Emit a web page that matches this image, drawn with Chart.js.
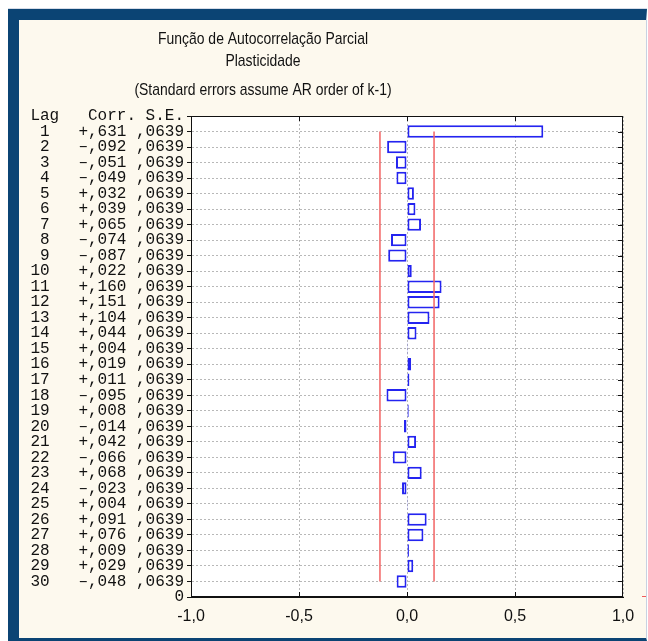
<!DOCTYPE html>
<html>
<head>
<meta charset="utf-8">
<title>Função de Autocorrelação Parcial</title>
<script src="https://cdn.jsdelivr.net/npm/chart.js@4"></script>
<style>
    html, body {
        margin: 0;
        padding: 0;
        width: 648px;
        height: 641px;
        overflow: hidden;
        background: #ffffff;
    }
    #edge {
        position: absolute;
        left: 8px;
        top: 8px;
        width: 639px;
        height: 1px;
        background: #d6dce8;
    }
    #panel {
        position: absolute;
        box-sizing: border-box;
        left: 8px;
        top: 9px;
        width: 639px;
        height: 632px;
        background: #fdf9ee;
        border-left: 11px solid #0b4474;
        border-top: 11px solid #0b4474;
        border-bottom: 3px solid #0b4474;
        border-right: 1px solid #c8d2e2;
    }
    #pacfChart {
        position: absolute;
        left: 19px;
        top: 20px;
    }
</style>
</head>
<body>
<div id="edge"></div>
<div id="panel"></div>
<canvas id="pacfChart" width="627" height="618"></canvas>

<script>
const lags = [1, 2, 3, 4, 5, 6, 7, 8, 9, 10, 11, 12, 13, 14, 15,
              16, 17, 18, 19, 20, 21, 22, 23, 24, 25, 26, 27, 28, 29, 30];
const corr = [0.631, -0.092, -0.051, -0.049, 0.032, 0.039, 0.065, -0.074, -0.087, 0.022,
              0.160, 0.151, 0.104, 0.044, 0.004, 0.019, 0.011, -0.095, 0.008, -0.014,
              0.042, -0.066, 0.068, -0.023, 0.004, 0.091, 0.076, 0.009, 0.029, -0.048];
const stdErr = [0.0639, 0.0639, 0.0639, 0.0639, 0.0639, 0.0639, 0.0639, 0.0639, 0.0639, 0.0639,
                0.0639, 0.0639, 0.0639, 0.0639, 0.0639, 0.0639, 0.0639, 0.0639, 0.0639, 0.0639,
                0.0639, 0.0639, 0.0639, 0.0639, 0.0639, 0.0639, 0.0639, 0.0639, 0.0639, 0.0639];
const xTicks = [-1, -0.5, 0, 0.5, 1];
const confLimit = 0.1252;

const titleLines = [
    "Função de Autocorrelação Parcial",
    "Plasticidade",
    "(Standard errors assume AR order of k-1)"
];
const tableHeader = "Lag   Corr. S.E.";

function fmtCorr(v) {
    return (v < 0 ? "–" : "+") + Math.abs(v).toFixed(3).replace("0.", ",");
}

function rowLabel(i) {
    return String(lags[i]).padStart(2) + "   " + fmtCorr(corr[i]) + " " + stdErr[i].toFixed(4).replace("0.", ",");
}

function yTickLabel(value) {
    if (value === 0) return tableHeader;
    if (value === lags.length + 1) return "0";
    return rowLabel(value - 1);
}

// heading text is squeezed sideways to get a narrow face
function drawNarrow(ctx, text, x, y) {
    ctx.save();
    ctx.translate(x, y);
    ctx.scale(0.82, 1);
    ctx.fillText(text, 0, 0);
    ctx.restore();
}

// white plot area, box border, inner tick marks and the three heading lines
const framePlugin = {
    id: "frame",
    beforeDraw(chart) {
        const { ctx, chartArea: a } = chart;
        ctx.save();
        ctx.fillStyle = "#ffffff";
        ctx.fillRect(a.left, a.top, a.width, a.height);
        ctx.restore();
    },
    afterDraw(chart) {
        const { ctx, chartArea: a, scales } = chart;
        ctx.save();
        ctx.strokeStyle = "#111111";
        ctx.lineWidth = 1;
        ctx.strokeRect(a.left + 0.5, a.top + 0.5, a.width - 1, a.height - 1);

        ctx.beginPath();
        lags.forEach(lag => {
            const y = Math.round(scales.y.getPixelForValue(lag)) + 0.5;
            ctx.moveTo(a.right - 5, y);
            ctx.lineTo(a.right, y);
        });
        xTicks.slice(1, -1).forEach(v => {
            const x = Math.round(scales.x.getPixelForValue(v)) + 0.5;
            ctx.moveTo(x, a.top);
            ctx.lineTo(x, a.top + 5);
            ctx.moveTo(x, a.bottom);
            ctx.lineTo(x, a.bottom - 5);
        });
        ctx.stroke();

        ctx.strokeStyle = "#f05a5a";
        ctx.beginPath();
        ctx.moveTo(a.right + 19, a.bottom - 0.5);
        ctx.lineTo(a.right + 23, a.bottom - 0.5);
        ctx.stroke();

        ctx.fillStyle = "#111111";
        ctx.textAlign = "center";
        ctx.textBaseline = "middle";
        ctx.font = '17px "Liberation Sans", Arial, sans-serif';
        drawNarrow(ctx, titleLines[0], 244, 19);
        drawNarrow(ctx, titleLines[1], 244, 41);
        drawNarrow(ctx, titleLines[2], 244, 70);
        ctx.restore();
    }
};

new Chart(document.getElementById("pacfChart"), {
    type: "bar",
    data: {
        datasets: [
            {
                type: "line",
                label: "-limit",
                data: [{ x: -confLimit, y: lags[0] }, { x: -confLimit, y: lags[lags.length - 1] }],
                borderColor: "#f26464",
                borderWidth: 1.5,
                pointRadius: 0,
                fill: false,
                order: 0
            },
            {
                type: "line",
                label: "+limit",
                data: [{ x: confLimit, y: lags[0] }, { x: confLimit, y: lags[lags.length - 1] }],
                borderColor: "#f26464",
                borderWidth: 1.5,
                pointRadius: 0,
                fill: false,
                order: 0
            },
            {
                label: "Corr.",
                data: lags.map((lag, i) => ({ x: corr[i], y: lag })),
                backgroundColor: "#ffffff",
                borderColor: "#2424f0",
                borderWidth: 2,
                borderSkipped: false,
                barPercentage: 0.8,
                categoryPercentage: 1.0,
                order: 1
            }
        ]
    },
    options: {
        indexAxis: "y",
        responsive: false,
        animation: false,
        layout: {
            padding: { top: 96, right: 23, left: 0, bottom: 0 }
        },
        plugins: {
            legend: { display: false },
            tooltip: { enabled: false },
            title: { display: false }
        },
        scales: {
            x: {
                type: "linear",
                position: "bottom",
                min: -1,
                max: 1,
                afterBuildTicks: scale => {
                    scale.ticks = xTicks.map(v => ({ value: v }));
                },
                afterFit: scale => {
                    scale.height = 41;
                },
                ticks: {
                    padding: 10,
                    color: "#111111",
                    font: { family: "'Liberation Sans', Arial, sans-serif", size: 16 },
                    callback: v => v.toFixed(1).replace(".", ",")
                },
                grid: {
                    color: "#b8b8b8",
                    drawTicks: false
                },
                border: {
                    color: "#111111",
                    dash: [2, 2]
                }
            },
            y: {
                type: "linear",
                position: "left",
                reverse: true,
                min: 0,
                max: lags.length + 1,
                offset: false,
                afterBuildTicks: scale => {
                    const ticks = [{ value: 0 }];
                    lags.forEach(lag => ticks.push({ value: lag }));
                    ticks.push({ value: lags.length + 1 });
                    scale.ticks = ticks;
                },
                afterFit: scale => {
                    scale.width = 172;
                },
                ticks: {
                    autoSkip: false,
                    padding: 3,
                    color: "#111111",
                    font: { family: "'Liberation Mono', 'DejaVu Sans Mono', monospace", size: 16, lineHeight: 1 },
                    callback: value => yTickLabel(value)
                },
                grid: {
                    offset: false,
                    color: "#b8b8b8",
                    tickColor: "#111111",
                    tickLength: 4,
                    tickBorderDash: []
                },
                border: {
                    color: "#111111",
                    dash: [2, 2]
                }
            }
        }
    },
    plugins: [framePlugin]
});
</script>
</body>
</html>
